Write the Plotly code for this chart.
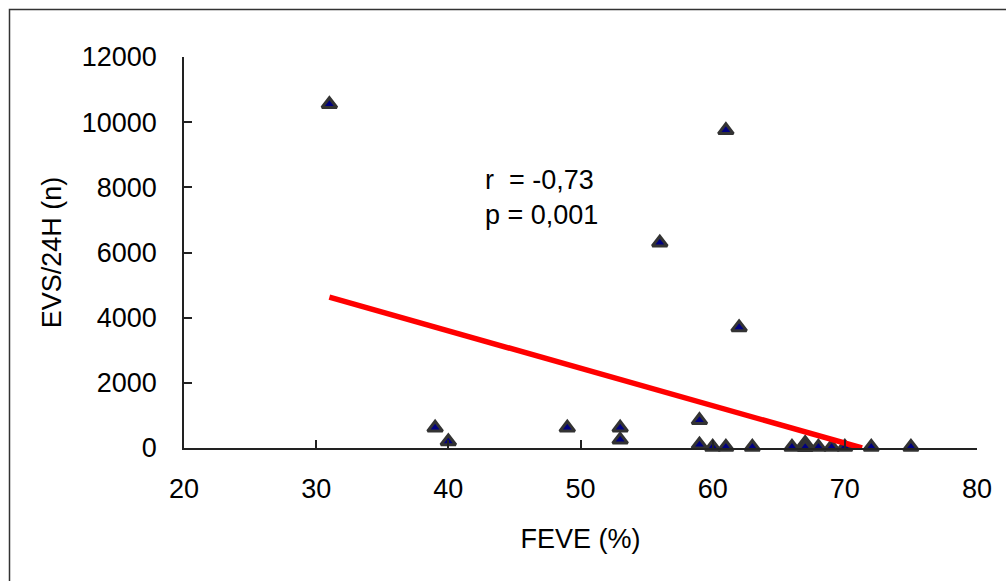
import plotly.graph_objects as go

# FEVE (%) vs number of ventricular extrasystoles per 24 h
feve = [31, 39, 40, 49, 53, 53, 56, 59, 59, 60, 61, 61, 62, 63, 66, 67, 67, 68, 69, 70, 72, 75]
evs = [10550, 620, 200, 620, 620, 250, 6300, 850, 100, 30, 9750, 30, 3700, 30, 30, 150, 20, 30, 30, 30, 30, 30]

# linear trend endpoints
trend_x = [31, 71.3]
trend_y = [4630, 0]

x_ticks = [20, 30, 40, 50, 60, 70, 80]
y_ticks = [0, 2000, 4000, 6000, 8000, 10000, 12000]

stats_lines = ["r&nbsp;&nbsp;= -0,73", "p = 0,001"]

FONT = "Liberation Sans, Arial, sans-serif"
FS = 27
AXIS_COLOR = "#222222"

W, H = 1006, 581
ML, MR, MT, MB = 184, 29, 57, 133
pw = W - ML - MR
ph = H - MT - MB

fig = go.Figure()

fig.add_trace(go.Scatter(
    x=feve, y=evs, mode="markers",
    marker=dict(symbol="triangle-up", size=13, color="#000080",
                line=dict(color="#333333", width=3)),
    cliponaxis=False, showlegend=False,
))

fig.add_trace(go.Scatter(
    x=trend_x, y=trend_y, mode="lines",
    line=dict(color="#ff0000", width=5.5),
    showlegend=False,
))

fig.add_annotation(x=42.6, y=8220, xref="x", yref="y", text=stats_lines[0],
                   showarrow=False, xanchor="left", yanchor="middle",
                   font=dict(family=FONT, size=FS, color="#000000"))
fig.add_annotation(x=42.6, y=7150, xref="x", yref="y", text=stats_lines[1],
                   showarrow=False, xanchor="left", yanchor="middle",
                   font=dict(family=FONT, size=FS, color="#000000"))

# outer frame around the chart area
fig.add_shape(type="rect", xref="paper", yref="paper",
              x0=(9.5 - ML) / pw, x1=(W + 10 - ML) / pw,
              y0=(H - MB - (H + 10)) / ph, y1=(H - MB - 9.5) / ph,
              line=dict(color="#333333", width=1.5), fillcolor="rgba(0,0,0,0)",
              layer="below")

fig.update_layout(
    width=W, height=H,
    margin=dict(l=ML, r=MR, t=MT, b=MB),
    paper_bgcolor="white", plot_bgcolor="white",
    font=dict(family=FONT, size=FS, color="#000000"),
    xaxis=dict(
        range=[20, 80], tickvals=x_ticks, ticktext=[str(v) for v in x_ticks],
        showgrid=False, zeroline=False, showline=True, linecolor=AXIS_COLOR,
        linewidth=1.5, ticks="inside", ticklen=8, tickcolor=AXIS_COLOR,
        tickwidth=1.5, ticklabelstandoff=16,
        title=dict(text="FEVE (%)", standoff=26, font=dict(size=FS)),
    ),
    yaxis=dict(
        range=[0, 12000], tickvals=y_ticks, ticktext=[str(v) for v in y_ticks],
        showgrid=False, zeroline=False, showline=True, linecolor=AXIS_COLOR,
        linewidth=1.5, ticks="inside", ticklen=8, tickcolor=AXIS_COLOR,
        tickwidth=1.5, ticklabelstandoff=20,
        title=dict(text="EVS/24H (n)", standoff=12, font=dict(size=FS)),
    ),
)

fig.write_html("out.html")
